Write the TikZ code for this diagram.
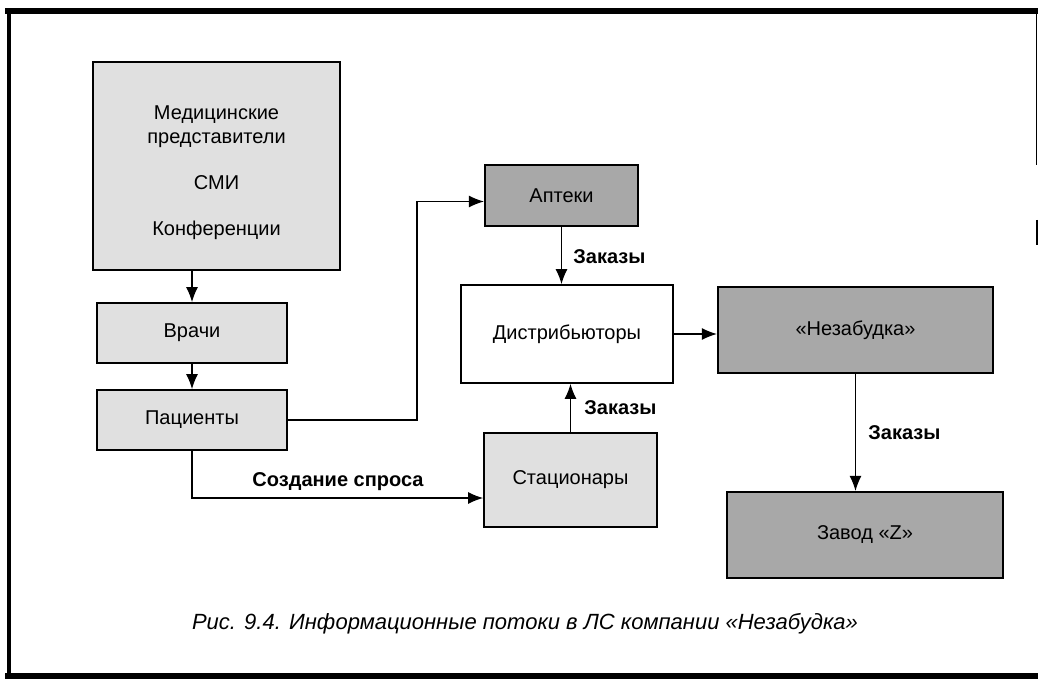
\documentclass[tikz,border=0pt]{standalone}
\usepackage{fontspec}
\setmainfont{Liberation Sans}
\usetikzlibrary{positioning,arrows.meta}

\begin{document}
\begin{tikzpicture}[x=0.5pt,y=-0.5pt,>={Latex[length=7.5pt,width=6pt]},
  box/.style={draw,line width=0.9pt,fill=black!12,inner sep=0pt,align=center,font=\fontsize{10}{12}\selectfont},
  darkbox/.style={box,line width=1.1pt,fill=black!34},
  flow/.style={->,line width=0.6pt},
  lbl/.style={font=\fontsize{10}{12}\selectfont\bfseries,inner sep=0pt}]
  \useasboundingbox (0,0) rectangle (1038,679);
  % page frame
  \draw[line width=2.6pt] (5,11) -- (1038,11);
  \draw[line width=2.4pt] (9,11) -- (9,678);
  \draw[line width=2.6pt] (5,676) -- (1038,676);
  \draw[line width=0.8pt] (1036.5,11) -- (1036.5,165);
  \draw[line width=1pt] (1036.5,220) -- (1036.5,245);

  \node[box,minimum width=123.5pt,minimum height=104pt] (media) at (216.5,166) {};
  \node[align=center,inner sep=0pt,font=\fontsize{10}{12}\selectfont] (mediatext) at (216.5,173)
    {Медицинские\\представители\\[11pt]СМИ\\[11pt]Конференции};
  \node[box,minimum width=95pt,minimum height=30pt] (doctors) at (192,333) {Врачи};
  \node[box,minimum width=95pt,minimum height=30pt] (patients) at (192,420) {Пациенты};
  \node[darkbox,minimum width=76.5pt,minimum height=30.5pt] (pharm) at (561.5,195.5) {Аптеки};
  \node[box,fill=white,minimum width=106pt,minimum height=49pt] (distr) at (567,334) {Дистрибьюторы};
  \node[box,minimum width=86.5pt,minimum height=47pt] (hosp) at (570.5,480) {Стационары};
  \node[darkbox,minimum width=137.5pt,minimum height=43pt] (nezab) at (855.5,330) {«Незабудка»};
  \node[darkbox,minimum width=138pt,minimum height=43pt] (plant) at (865,535) {Завод «Z»};
  \coordinate (turn) at (417,300);

  \draw[flow] (doctors.north |- media.south) -- (doctors.north);
  \draw[flow] (doctors.south) -- (patients.north);
  \draw[flow] (patients.east) -| (turn) |- ([yshift=-3pt]pharm.west);
  \draw[flow] (pharm.south) -- (pharm.south |- distr.north);
  \draw[flow] (hosp.north) -- (hosp.north |- distr.south);
  \draw[flow] (patients.south) |- ([yshift=-9pt]hosp.west);
  \draw[flow] (distr.east) -- (distr.east -| nezab.west);
  \draw[flow] (nezab.south) -- (nezab.south |- plant.north);

  \node[lbl,anchor=west] (ord1) at (573,257) {Заказы};
  \node[lbl,anchor=west] (ord2) at (584,408) {Заказы};
  \node[lbl,anchor=west] (ord3) at (868,433) {Заказы};
  \node[lbl] (demand) at (338,482) {Создание спроса};

  \node[font=\fontsize{11}{13}\selectfont\itshape] (caption) at (525,624)
    {Рис. 9.4. Информационные потоки в ЛС компании «Незабудка»};
\end{tikzpicture}
\end{document}
